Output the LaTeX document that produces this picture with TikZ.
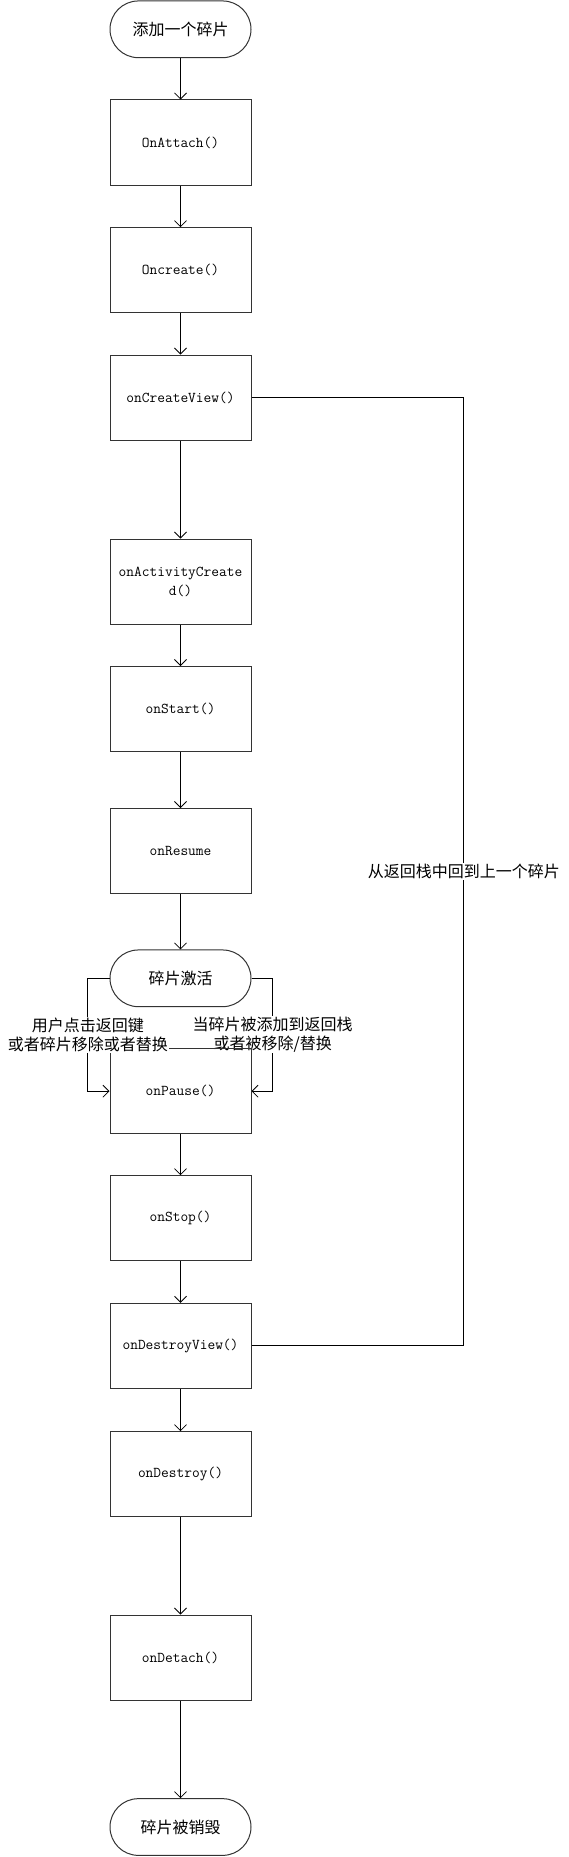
\documentclass[tikz,border=0pt]{standalone}
\usepackage{fontspec}
\newfontfamily\cjk{Noto Sans CJK SC}
\usetikzlibrary{arrows.meta,calc}
\begin{document}
\begin{tikzpicture}[x=1pt,y=-1pt,
  box/.style={draw=black!80,line width=1pt,minimum width=141pt,minimum height=85pt,inner sep=0pt,
    font=\ttfamily\fontsize{15}{19}\selectfont,align=center},
  term/.style={draw=black!80,line width=1pt,rounded corners=28.3pt,minimum width=141pt,minimum height=56.7pt,
    inner sep=0pt,font=\cjk\fontsize{16}{19}\selectfont},
  arr/.style={draw=black,line width=0.8pt,-{Straight Barb[length=6pt,width=12pt]}},
  ln/.style={draw=black,line width=0.8pt},
  lbl/.style={fill=white,inner sep=1pt,font=\cjk\fontsize{16}{19}\selectfont,align=center}]
\useasboundingbox (0,0) rectangle (568,1857);

\node[term] (start) at (180.5,29.3) {添加一个碎片};
\node[box] (attach) at (180.5,142.5) {OnAttach()};
\node[box] (create) at (180.5,270.2) {Oncreate()};
\node[box] (view) at (180.5,397.5) {onCreateView()};
\node[box] (actc) at (180.5,581.5) {onActivityCreate\\d()};
\node[box] (onstart) at (180.5,709) {onStart()};
\node[box] (resume) at (180.5,851) {onResume};
\node[term] (active) at (180.5,978.3) {碎片激活};
\node[box] (pause) at (180.5,1091.2) {onPause()};
\node[box] (stop) at (180.5,1218.2) {onStop()};
\node[box] (dview) at (180.5,1345.8) {onDestroyView()};
\node[box] (destroy) at (180.5,1474.2) {onDestroy()};
\node[box] (detach) at (180.5,1657.5) {onDetach()};
\node[term] (end) at (180.5,1827) {碎片被销毁};

\draw[arr] (start) -- (attach);
\draw[arr] (attach) -- (create);
\draw[arr] (create) -- (view);
\draw[arr] (view) -- (actc);
\draw[arr] (actc) -- (onstart);
\draw[arr] (onstart) -- (resume);
\draw[arr] (resume) -- (active);
\draw[arr] (pause) -- (stop);
\draw[arr] (stop) -- (dview);
\draw[arr] (dview) -- (destroy);
\draw[arr] (destroy) -- (detach);
\draw[arr] (detach) -- (end);

\draw[ln] (view.east) -- ++(212.3,0) |- node[pos=0.25,lbl]{从返回栈中回到上一个碎片} (dview.east);

\draw[arr] (active.east) -| node[pos=0.75,lbl]{当碎片被添加到返回栈\\或者被移除/替换} ($(pause.east)+(21.2,0)$) -- (pause.east);
\draw[draw=black!80,line width=1pt] ($(pause.south west)+(0.5,-0.5)$) rectangle ($(pause.north east)+(-0.5,0.5)$);
\draw[arr] (active.west) -| node[pos=0.75,lbl]{用户点击返回键\\或者碎片移除或者替换} ($(pause.west)+(-21.7,0)$) -- (pause.west);
\end{tikzpicture}
\end{document}
